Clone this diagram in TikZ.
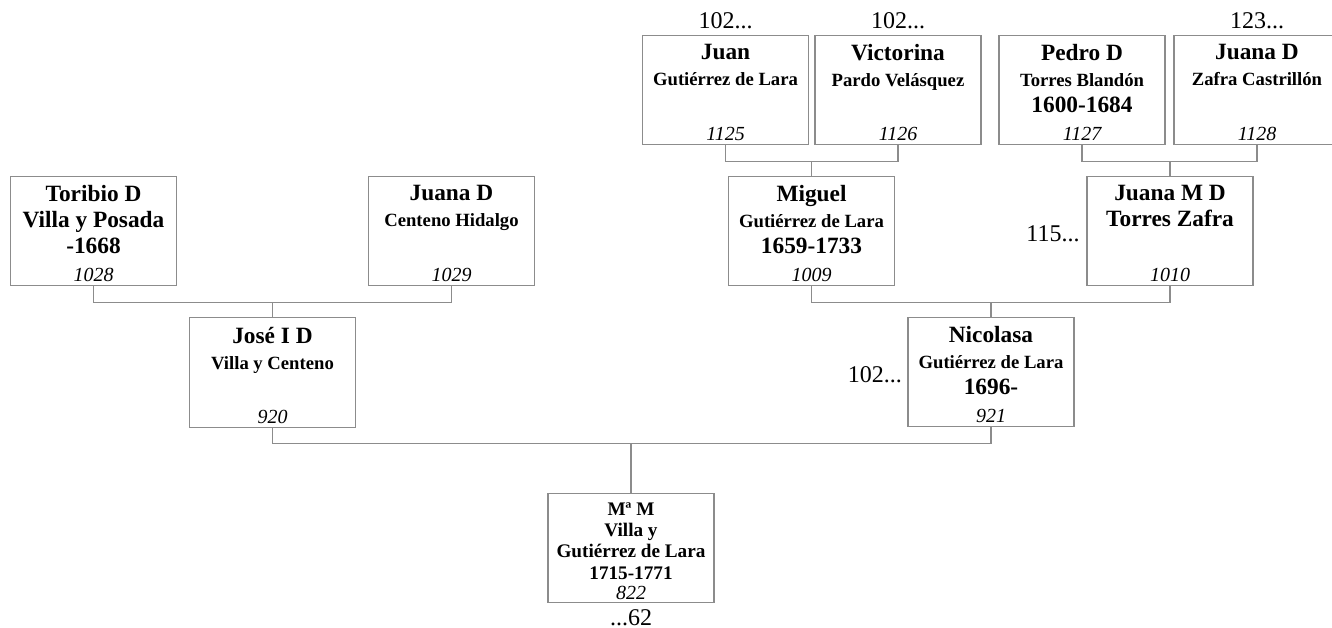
\documentclass[tikz,border=0pt]{standalone}
\usepackage{fontspec}
\setmainfont{Liberation Serif}
\usetikzlibrary{positioning}
\newcommand{\famline}[1]{{\fontsize{14}{19.5}\selectfont #1}}

\begin{document}
\begin{tikzpicture}[
      x=0.75pt, y=-0.75pt,
      every node/.style={inner sep=0pt},
      person/.style={draw=black!45, line width=0.8pt,
                     minimum width=124.5pt, minimum height=82pt},
      toptext/.style={anchor=north, align=center,
                      font=\bfseries\fontsize{17.5}{19.5}\selectfont},
      mmtext/.style={anchor=north, align=center,
                     font=\bfseries\fontsize{14.4}{16}\selectfont},
      numtext/.style={anchor=base, font=\itshape\fontsize{15}{18}\selectfont},
      more/.style={font=\fontsize{18}{21}\selectfont},
      link/.style={draw=black!45, line width=0.8pt},
  ]
    \useasboundingbox (0,0) rectangle (1332,628);

    %% --- Great-grandparents ---
    \node[person] (juan) at (725.5,90) {};
    \node[toptext] (juan-t) at ([yshift=-7pt]juan.north) {Juan\\\famline{Gutiérrez de Lara}};
    \node[numtext] (juan-n) at ([yshift=3.5pt]juan.south) {1125};

    \node[person] (victorina) at (898,90) {};
    \node[toptext] (victorina-t) at ([yshift=-7pt]victorina.north) {Victorina\\\famline{Pardo Velásquez}};
    \node[numtext] (victorina-n) at ([yshift=3.5pt]victorina.south) {1126};

    \node[person] (pedro) at (1082,90) {};
    \node[toptext] (pedro-t) at ([yshift=-7pt]pedro.north) {Pedro D\\\famline{Torres Blandón}\\1600-1684};
    \node[numtext] (pedro-n) at ([yshift=3.5pt]pedro.south) {1127};

    \node[person] (juanaz) at (1257,90) {};
    \node[toptext] (juanaz-t) at ([yshift=-7pt]juanaz.north) {Juana D\\\famline{Zafra Castrillón}};
    \node[numtext] (juanaz-n) at ([yshift=3.5pt]juanaz.south) {1128};

    %% --- Grandparents ---
    \node[person] (toribio) at (93.5,231) {};
    \node[toptext] (toribio-t) at ([yshift=-7pt]toribio.north) {Toribio D\\Villa y Posada\\-1668};
    \node[numtext] (toribio-n) at ([yshift=3.5pt]toribio.south) {1028};

    \node[person] (juanac) at (451.5,231) {};
    \node[toptext] (juanac-t) at ([yshift=-7pt]juanac.north) {Juana D\\\famline{Centeno Hidalgo}};
    \node[numtext] (juanac-n) at ([yshift=3.5pt]juanac.south) {1029};

    \node[person] (miguel) at (811.5,231) {};
    \node[toptext] (miguel-t) at ([yshift=-7pt]miguel.north) {Miguel\\\famline{Gutiérrez de Lara}\\1659-1733};
    \node[numtext] (miguel-n) at ([yshift=3.5pt]miguel.south) {1009};

    \node[person] (juanam) at (1170,231) {};
    \node[toptext] (juanam-t) at ([yshift=-7pt]juanam.north) {Juana M D\\Torres Zafra};
    \node[numtext] (juanam-n) at ([yshift=3.5pt]juanam.south) {1010};

    %% --- Parents ---
    \node[person] (jose) at (272.5,372.5) {};
    \node[toptext] (jose-t) at ([yshift=-7pt]jose.north) {José I D\\\famline{Villa y Centeno}};
    \node[numtext] (jose-n) at ([yshift=3.5pt]jose.south) {920};

    \node[person] (nicolasa) at (991,372) {};
    \node[toptext] (nicolasa-t) at ([yshift=-7pt]nicolasa.north) {Nicolasa\\\famline{Gutiérrez de Lara}\\1696-};
    \node[numtext] (nicolasa-n) at ([yshift=3.5pt]nicolasa.south) {921};

    %% --- Root ---
    \node[person] (mm) at (631,548) {};
    \node[mmtext] (mm-t) at ([yshift=-7pt]mm.north) {Mª M\\Villa y\\Gutiérrez de Lara\\1715-1771};
    \node[numtext] (mm-n) at ([yshift=2.5pt]mm.south) {822};

    %% --- Continuation marks ---
    \node[more, above=4pt of juan] (juan-up) {102...};
    \node[more, above=4pt of victorina] (victorina-up) {102...};
    \node[more, above=4pt of juanaz] (juanaz-up) {123...};
    \node[more, left=5pt of juanam, yshift=-2pt] (juanam-side) {115...};
    \node[more, left=4pt of nicolasa, yshift=-2pt] (nicolasa-side) {102...};
    \node[more, below=4.5pt of mm] (mm-down) {...62};

    %% --- Couple links ---
    \draw[link] (juan.south) -- ++(0,16) coordinate (b1) -| (victorina.south);
    \draw[link] (miguel.north) -- (miguel.north |- b1);
    \draw[link] (pedro.south) -- ++(0,16) coordinate (b2) -| (juanaz.south);
    \draw[link] (juanam.north) -- (juanam.north |- b2);
    \draw[link] (toribio.south) -- ++(0,16) coordinate (b3) -| (juanac.south);
    \draw[link] (jose.north) -- (jose.north |- b3);
    \draw[link] (miguel.south) -- ++(0,16) coordinate (b4) -| (juanam.south);
    \draw[link] (nicolasa.north) -- (nicolasa.north |- b4);
    \draw[link] (jose.south) -- ++(0,16) coordinate (b5) -| (nicolasa.south);
    \draw[link] (mm.north) -- (mm.north |- b5);
  \end{tikzpicture}
\end{document}
